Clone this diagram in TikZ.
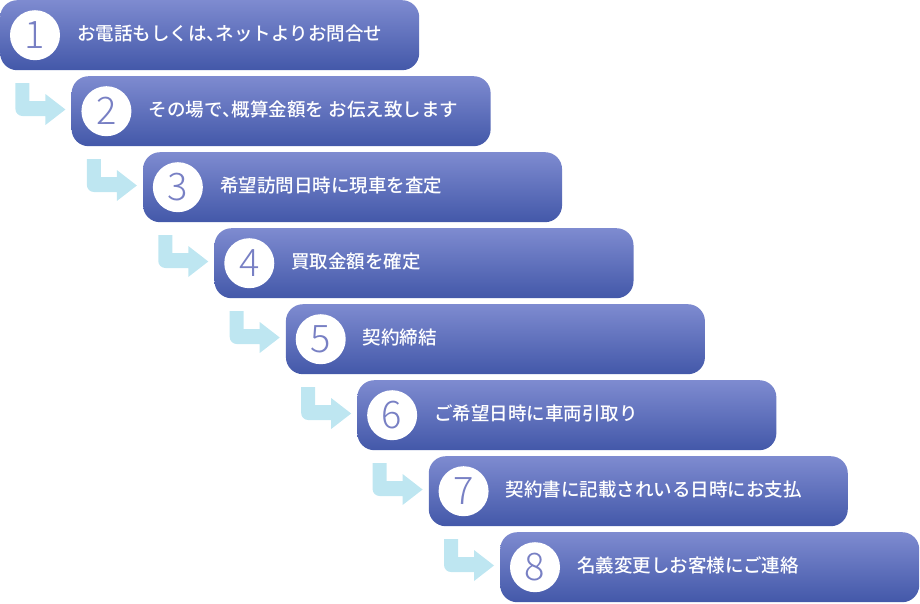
\documentclass[tikz,border=0pt]{standalone}
\usepackage{fontspec}
\IfFontExistsTF{Noto Sans CJK JP Medium}
  {\newfontfamily\jp{Noto Sans CJK JP Medium}}
  {\newfontfamily\jp{Noto Sans CJK JP}}
\IfFontExistsTF{Noto Sans CJK JP Light}
  {\newfontfamily\numfont{Noto Sans CJK JP Light}}
  {\IfFontExistsTF{Lato Light}{\newfontfamily\numfont{Lato Light}}{\newfontfamily\numfont{DejaVu Sans}}}
\newcommand{\tcomma}{\makebox[0.5em][l]{、}}
\definecolor{boxtop}{RGB}{126,139,208}
\definecolor{boxbot}{RGB}{67,88,169}
\definecolor{numcol}{RGB}{120,128,196}
\definecolor{arrowcol}{RGB}{190,230,241}
\tikzset{
  stepbox/.style={rounded corners=17pt, top color=boxtop, bottom color=boxbot,
    draw=none, minimum width=419pt, minimum height=70pt, anchor=north west, inner sep=0pt},
  numcirc/.style={circle, fill=white, minimum size=50pt, inner sep=0pt,
    text=numcol, font=\numfont\fontsize{38}{38}\selectfont},
  steptext/.style={anchor=west, text=white, inner sep=0pt, font=\jp\fontsize{18.5}{18.5}\selectfont},
  flowarrow/.style={fill=arrowcol, draw=none}
}
\begin{document}
\begin{tikzpicture}[x=1pt,y=1pt]
\useasboundingbox (0,0) rectangle (920,-603);
\foreach \i/\t in {1/{お電話もしくは\tcomma ネットよりお問合せ},
                   2/{その場で\tcomma 概算金額を お伝え致します},
                   3/{希望訪問日時に現車を査定},
                   4/{買取金額を確定},
                   5/{契約締結},
                   6/{ご希望日時に車両引取り},
                   7/{契約書に記載されいる日時にお支払},
                   8/{名義変更しお客様にご連絡}}{
  \pgfmathsetmacro{\bx}{(\i-1)*71.43}
  \pgfmathsetmacro{\by}{-(\i-1)*76}
  \node[stepbox] (b\i) at (\bx,\by) {};
  \node[numcirc] (c\i) at ([xshift=35pt]b\i.west) {\i};
  \node[steptext] (t\i) at ([xshift=77pt,yshift=1.5pt]b\i.west) {\t};
}
\foreach \i in {2,...,8}{
  \coordinate (a\i) at (b\i.north west);
  \fill[flowarrow] ([shift={(-56,-7)}]a\i) -- ([shift={(-42,-7)}]a\i)
    -- ([shift={(-42,-25)}]a\i) -- ([shift={(-26,-25)}]a\i)
    -- ([shift={(-26,-18)}]a\i) -- ([shift={(-6,-33.5)}]a\i)
    -- ([shift={(-26,-49)}]a\i) -- ([shift={(-26,-40)}]a\i)
    [rounded corners=7pt] -- ([shift={(-56,-40)}]a\i)
    [sharp corners] -- cycle;
}
\end{tikzpicture}
\end{document}
